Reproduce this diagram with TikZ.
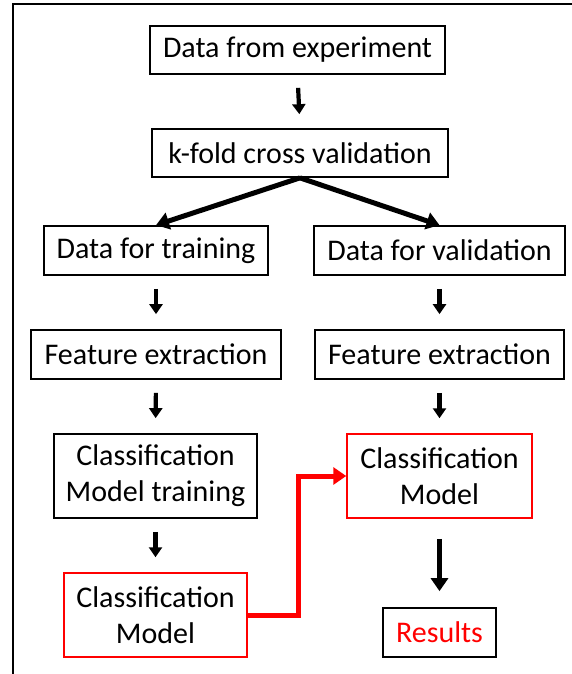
\documentclass[tikz,border=0pt]{standalone}
\usepackage{fontspec}
\setmainfont{Carlito}
\usetikzlibrary{arrows.meta}
\definecolor{boxred}{RGB}{255,0,0}

\tikzset{
  box/.style={draw, line width=1.7pt, inner sep=0pt, align=center,
    font=\fontsize{30}{36}\selectfont},
  redbox/.style={box, draw=boxred, line width=1.5pt},
  arr/.style={-{Triangle[length=10pt,width=13pt]}, line width=4.2pt},
  bigarr/.style={-{Triangle[length=13pt,width=17pt]}, line width=5pt},
}

\begin{document}
\begin{tikzpicture}[x=1pt,y=-1pt]
\useasboundingbox (0,0) rectangle (572,674);
% frame
\draw[line width=2.8pt] (13,675) -- (13,4) -- (573,4);

% top
\node[box, minimum width=295pt, minimum height=48pt] (exp) at (297.5,50) {Data from experiment};
\node[box, minimum width=296pt, minimum height=48pt] (kfold) at (300,153) {k-fold cross validation};

% two branches
\node[box, minimum width=224pt, minimum height=49pt] (train) at (156,250.5) {Data for training};
\node[box, minimum width=251pt, minimum height=49pt] (valid) at (439.5,250.5) {Data for validation};
\node[box, minimum width=250pt, minimum height=49pt] (featL) at (156,354.5) {Feature extraction};
\node[box, minimum width=249pt, minimum height=49pt] (featR) at (439.5,354.5) {Feature extraction};
\node[box, minimum width=203pt, minimum height=84pt] (trainM) at (155.5,476) {Classification\\Model training};
\node[redbox, minimum width=185pt, minimum height=84pt] (modelR) at (439.5,476) {Classification\\Model};
\node[redbox, minimum width=183pt, minimum height=84pt] (modelL) at (155.5,615) {Classification\\Model};
\node[box, minimum width=113pt, minimum height=49pt, text=boxred] (results) at (439.5,632.5) {Results};

% arrows
\draw[arr, shorten <=13pt, shorten >=14pt] (exp.south) -- (kfold.north);
\draw[bigarr] (kfold.south) -- (train.north);
\draw[bigarr] (kfold.south) -- (valid.north);
\draw[arr, shorten <=13pt, shorten >=15pt] (train.south) -- (featL.north);
\draw[arr, shorten <=13pt, shorten >=15pt] (valid.south) -- (featR.north);
\draw[arr, shorten <=13pt, shorten >=15pt] (featL.south) -- (trainM.north);
\draw[arr, shorten <=13pt, shorten >=15pt] (featR.south) -- (modelR.north);
\draw[arr, shorten <=13pt, shorten >=15pt] (trainM.south) -- (modelL.north);
\draw[bigarr, shorten <=20pt, shorten >=16pt] (modelR.south) -- (results.north);
\draw[bigarr, boxred] (modelL.east) -- ++(51,0) |- (modelR.west);
\end{tikzpicture}
\end{document}
